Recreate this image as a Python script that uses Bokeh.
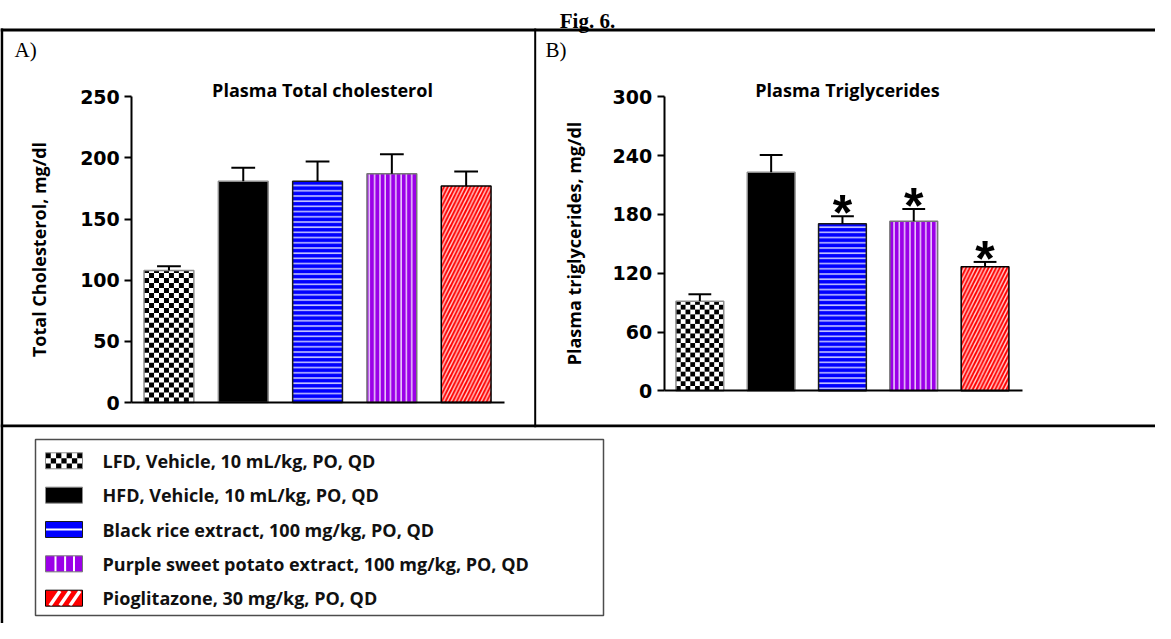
import numpy as np
from bokeh.plotting import figure
from bokeh.models import Range1d, LinearAxis, FixedTicker
from bokeh.core.properties import value
from bokeh.embed import file_html
from bokeh.resources import INLINE

# ---------------- data ----------------
groups = [
    "LFD, Vehicle, 10 mL/kg, PO, QD",
    "HFD, Vehicle, 10 mL/kg, PO, QD",
    "Black rice extract, 100 mg/kg, PO, QD",
    "Purple sweet potato extract, 100 mg/kg, PO, QD",
    "Pioglitazone, 30 mg/kg, PO, QD",
]
chol_mean = [108, 181, 181, 187, 177]
chol_sem = [3.5, 11, 16, 16, 12]
tg_mean = [91.5, 223, 170.5, 173, 126.5]
tg_sem = [7, 17.5, 7.5, 12.5, 5]
tg_sig = [False, False, True, True, True]
chol_ticks = [0, 50, 100, 150, 200, 250]
tg_ticks = [0, 60, 120, 180, 240, 300]
fig_title = "Fig. 6."
panel_tags = ["A)", "B)"]
panel_titles = ["Plasma Total cholesterol", "Plasma Triglycerides"]
y_labels = ["Total Cholesterol, mg/dl", "Plasma triglycerides, mg/dl"]

# ---------------- layout constants (page pixels) ----------------
W, H = 1155, 623
OX, OY = 8, 8
BW = 0.67
SANS = "Open Sans"

p = figure(width=W, height=H, output_backend="svg", toolbar_location=None,
           x_range=Range1d(OX, OX + W), y_range=Range1d(OY + H, OY),
           x_axis_type=None, y_axis_type=None, min_border=0,
           outline_line_color=None, background_fill_color="white",
           border_fill_color="white")


def xr(x0, ppu):
    s = 0.5 - (x0 - OX) / ppu
    return Range1d(s, s + W / ppu)


def yr(y0, ppu):
    e = (y0 - OY) / ppu
    return Range1d(e - H / ppu, e)


PANELS = {
    "a": dict(x0=139.3, y0=410.0, ppx=74.3, ppy=61.14 / 50, standoff=26),
    "b": dict(x0=671.7, y0=398.3, ppx=71.3, ppy=58.8 / 60, standoff=24),
}
p.extra_x_ranges = {"xa": xr(PANELS["a"]["x0"], PANELS["a"]["ppx"]),
                    "xb": xr(PANELS["b"]["x0"], PANELS["b"]["ppx"])}
p.extra_y_ranges = {"ya": yr(PANELS["a"]["y0"], PANELS["a"]["ppy"]),
                    "yb": yr(PANELS["b"]["y0"], PANELS["b"]["ppy"])}

# ---------------- frame lines ----------------
frame_lines = dict(
    left=[OX, OX, 541.7, OX],
    right=[OX + W, 10.7, 543.7, OX + W],
    top=[36.0, 36.0, 36.0, 432.0],
    bottom=[39.0, OY + H, 434.7, 434.7],
)
p.quad(left=frame_lines["left"], right=frame_lines["right"],
       top=frame_lines["top"], bottom=frame_lines["bottom"],
       fill_color="black", line_color=None)

p.text(x=[595], y=[28], text=[fig_title], text_font=value("Liberation Serif"),
       text_font_style="bold", text_font_size="21px", text_align="center",
       text_baseline="alphabetic", text_color="black")
p.text(x=[22, 553], y=[57, 57], text=panel_tags, text_font=value("Liberation Serif"),
       text_font_size="21px", text_align="left", text_baseline="alphabetic",
       text_color="black")
p.text(x=[330, 855], y=[97, 97], text=panel_titles, text_font=value(SANS),
       text_font_style="bold", text_font_size="18px", text_align="center",
       text_baseline="alphabetic", text_color="black")

STYLES = [
    dict(fill_color="white", line_color="#8c8c8c"),
    dict(fill_color="black", line_color="#8c8c8c"),
    dict(fill_color="#0000FF", line_color="#1a1a1a", hatch_pattern="-",
         hatch_color="white", hatch_scale=5.2, hatch_weight=1.6, hatch_alpha=0.75),
    dict(fill_color="#9B00E8", line_color="#777777", hatch_pattern="|",
         hatch_color="white", hatch_scale=5.3, hatch_weight=1.5, hatch_alpha=0.8),
    dict(fill_color="#FF0000", line_color="black", hatch_pattern="/",
         hatch_color="white", hatch_scale=7.5, hatch_weight=1.4, hatch_alpha=0.85),
]


def checker_cells(xc, bottom, top, width, cell_w, cell_h, ncols):
    L, R, B, T = [], [], [], []
    nrows = int(np.ceil((top - bottom) / cell_h - 1e-9))
    for r in range(nrows):
        b = bottom + r * cell_h
        t = min(bottom + (r + 1) * cell_h, top)
        for c in range(ncols):
            if (r + c) % 2 == 0:
                l = xc - width / 2 + c * cell_w
                L.append(l); R.append(l + cell_w); B.append(b); T.append(t)
    return L, R, B, T


def draw_panel(key, means, sems, ticks, ylabel, sig=None):
    xn, yn = "x" + key, "y" + key
    cfg = PANELS[key]
    xs = np.arange(1, len(means) + 1)
    kw = dict(x_range_name=xn, y_range_name=yn)
    for i, (x, m) in enumerate(zip(xs, means)):
        st = dict(STYLES[i])
        lc = st.pop("line_color")
        p.vbar(x=[x], top=[m], bottom=0, width=BW, line_color=None, **st, **kw)
        if i == 0:
            cw = BW / 10
            ch = cw * cfg["ppx"] / cfg["ppy"]
            L, R, B, T = checker_cells(x, 0, m, BW, cw, ch, 10)
            p.quad(left=L, right=R, bottom=B, top=T, fill_color="black",
                   line_color=None, **kw)
        p.vbar(x=[x], top=[m], bottom=0, width=BW, fill_color=None,
               line_color=lc, line_width=1.5, **kw)
    tops = [m + s for m, s in zip(means, sems)]
    p.segment(x0=xs, y0=means, x1=xs, y1=tops, line_color="black",
              line_width=2, **kw)
    p.segment(x0=xs - 0.16, y0=tops, x1=xs + 0.16, y1=tops,
              line_color="black", line_width=2, **kw)
    if sig is not None:
        sx = [x for x, s in zip(xs, sig) if s]
        sy = [t for t, s in zip(tops, sig) if s]
        p.text(x=sx, y=sy, text=["*"] * len(sx), text_font=value("Liberation Sans"),
               text_font_style="bold", text_font_size="50px", text_align="center",
               text_baseline="middle", y_offset=-3, text_color="black", **kw)

    yax = LinearAxis(x_range_name=xn, y_range_name=yn, fixed_location=0.5,
                     bounds=(ticks[0], ticks[-1]), ticker=FixedTicker(ticks=ticks),
                     axis_label=ylabel)
    yax.axis_line_width = 2
    yax.major_tick_line_width = 2
    yax.major_tick_out = 7
    yax.major_tick_in = 0
    yax.minor_tick_line_color = None
    yax.major_label_standoff = 5
    yax.major_label_text_font = "DejaVu Sans"
    yax.major_label_text_font_style = "bold"
    yax.major_label_text_font_size = "19px"
    yax.major_label_text_color = "black"
    yax.axis_label_text_font = SANS
    yax.axis_label_text_font_style = "bold"
    yax.axis_label_text_font_size = "18px"
    yax.axis_label_text_color = "black"
    yax.axis_label_standoff = cfg["standoff"]
    p.add_layout(yax, "left")

    xax = LinearAxis(x_range_name=xn, y_range_name=yn, fixed_location=0,
                     bounds=(0.5, len(means) + 0.52), ticker=FixedTicker(ticks=[]))
    xax.axis_line_width = 2
    xax.major_tick_line_color = None
    xax.minor_tick_line_color = None
    xax.major_label_text_font_size = "0px"
    p.add_layout(xax, "below")


draw_panel("a", chol_mean, chol_sem, chol_ticks, y_labels[0])
draw_panel("b", tg_mean, tg_sem, tg_ticks, y_labels[1], sig=tg_sig)

# ---------------- legend ----------------
LX0, LX1, LY0, LY1 = 43, 611, 447, 623
p.quad(left=[LX0], right=[LX1], top=[LY0], bottom=[LY1], fill_color=None,
       line_color="#4d4d4d", line_width=1.5)
row_y = [468.3 + 34.35 * k for k in range(len(groups))]
SW0, SW1, SH = 53, 90, 16
sw_fill = ["white", "black", "#0000FF", "#9B00E8", "#FF0000"]
sw_line = ["#8c8c8c", "#8c8c8c", "#1a1a1a", "#777777", "black"]
p.quad(left=[SW0] * 5, right=[SW1] * 5, top=[y - SH / 2 for y in row_y],
       bottom=[y + SH / 2 for y in row_y], fill_color=sw_fill, line_color=None)
L, R, B, T = checker_cells((SW0 + SW1) / 2, 0, SH, SW1 - SW0, (SW1 - SW0) / 7, SH / 3, 7)
y_top0 = row_y[0] - SH / 2
p.quad(left=L, right=R, top=[y_top0 + b for b in B], bottom=[y_top0 + t for t in T],
       fill_color="black", line_color=None)
p.segment(x0=[SW0], x1=[SW1], y0=[row_y[2]], y1=[row_y[2]], line_color="white",
          line_width=2)
vx = [SW0 + (SW1 - SW0) * f for f in (0.27, 0.53, 0.77)]
p.segment(x0=vx, x1=vx, y0=[row_y[3] - SH / 2] * 3, y1=[row_y[3] + SH / 2] * 3,
          line_color="white", line_width=2)
dc = [62.5, 72.5, 82.5]
p.segment(x0=[c - 5 for c in dc], y0=[row_y[4] + SH / 2 - 0.8] * 3,
          x1=[c + 5 for c in dc], y1=[row_y[4] - SH / 2 + 0.8] * 3,
          line_color="white", line_width=3.5)
p.quad(left=[SW0] * 5, right=[SW1] * 5, top=[y - SH / 2 for y in row_y],
       bottom=[y + SH / 2 for y in row_y], fill_color=None, line_color=sw_line,
       line_width=1)
p.text(x=[110] * 5, y=row_y, text=groups, text_font=value(SANS),
       text_font_style="bold", text_font_size="18px", text_align="left",
       text_baseline="middle", text_color="#111111")

open("out.html", "w").write(file_html(p, INLINE))
